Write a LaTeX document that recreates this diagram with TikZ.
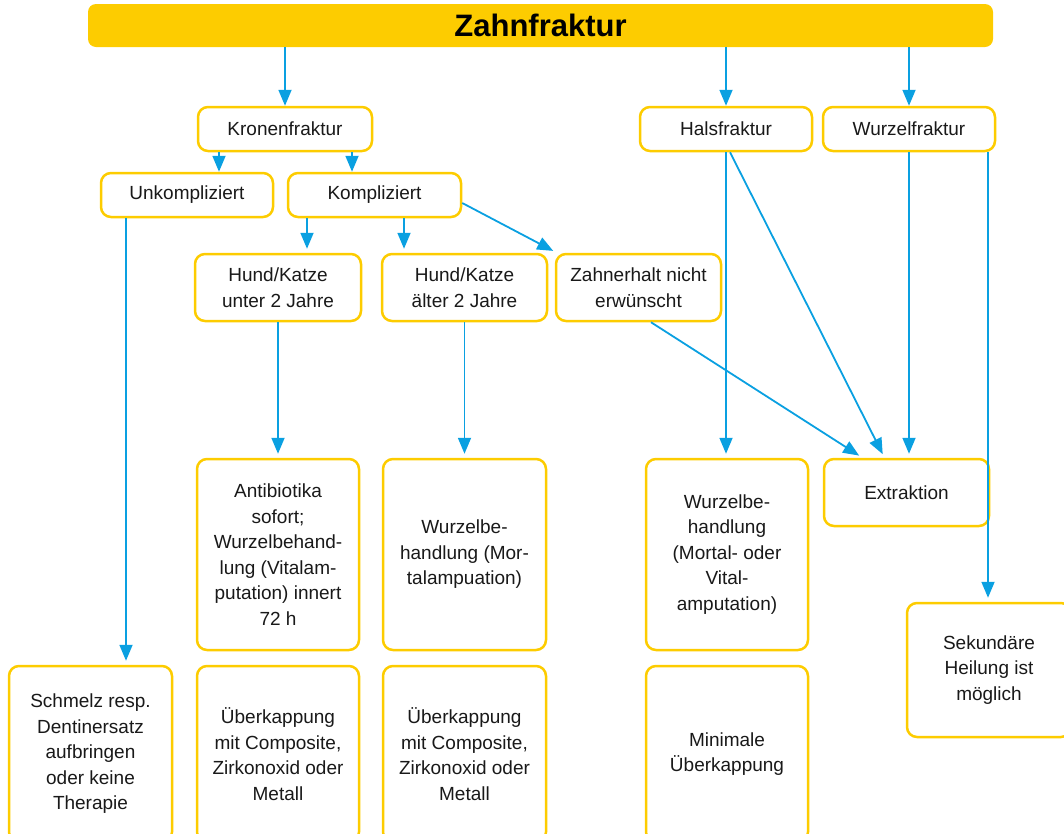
\documentclass[tikz,border=0pt]{standalone}
\usepackage{fontspec}
\setmainfont{Liberation Sans}
\usetikzlibrary{arrows.meta,calc}
\definecolor{ylw}{RGB}{253,204,0}
\definecolor{blu}{RGB}{10,160,225}
\definecolor{txt}{RGB}{25,25,25}
\begin{document}
\begin{tikzpicture}[x=1pt,y=-1pt,
  box/.style={draw=ylw, line width=2.5pt, rounded corners=10pt, fill=white,
    align=center, inner sep=0pt, text=txt, font=\fontsize{19}{25.5}\selectfont},
  titlebox/.style={fill=ylw, rounded corners=8pt, inner sep=0pt, text=black,
    font=\fontsize{31}{36}\selectfont\bfseries},
  arr/.style={draw=blu, line width=1.8pt, shorten >=4pt,
    -{Triangle[length=16pt,width=13pt]}}]
\useasboundingbox (0,0) rectangle (1064,833);
\clip (0,0) rectangle (1064,833);

\node[titlebox, minimum width=905pt, minimum height=43pt] (title) at (540.5,25.5) {Zahnfraktur};

\node[box, minimum width=174pt, minimum height=44pt] (kron) at (285,129) {Kronenfraktur};
\node[box, minimum width=172pt, minimum height=44pt] (unk) at (187,195) {Unkompliziert};
\node[box, minimum width=173pt, minimum height=44pt] (komp) at (374.5,195) {Kompliziert};
\node[box, minimum width=166pt, minimum height=67pt] (unter) at (278,287.5) {Hund/Katze\\unter 2 Jahre};
\node[box, minimum width=165pt, minimum height=67pt] (aelter) at (464.5,287.5) {Hund/Katze\\älter 2 Jahre};
\node[box, minimum width=165pt, minimum height=67pt] (zahn) at (638.5,287.5) {Zahnerhalt nicht\\erwünscht};
\node[box, minimum width=172pt, minimum height=44pt] (hals) at (726,129) {Halsfraktur};
\node[box, minimum width=172pt, minimum height=44pt] (wurz) at (909,129) {Wurzelfraktur};

\node[box, minimum width=162pt, minimum height=191pt] (antib) at (278,554.5) {Antibiotika\\sofort;\\Wurzelbehand-\\lung (Vitalam-\\putation) innert\\72 h};
\node[box, minimum width=163pt, minimum height=191pt] (wbm) at (464.5,554.5) {Wurzelbe-\\handlung (Mor-\\talampuation)};
\node[box, minimum width=162pt, minimum height=191pt] (wbh) at (727,554.5) {Wurzelbe-\\handlung\\(Mortal- oder\\Vital-\\amputation)};
\node[box, minimum width=165pt, minimum height=67pt] (extr) at (906.5,492.5) {Extraktion};

\node[box, minimum width=163pt, minimum height=176pt] (schm) at (90.5,754) {Schmelz resp.\\Dentinersatz\\aufbringen\\oder keine\\Therapie};
\node[box, minimum width=162pt, minimum height=176pt] (ueb1) at (278,754) {Überkappung\\mit Composite,\\Zirkonoxid oder\\Metall};
\node[box, minimum width=163pt, minimum height=176pt] (ueb2) at (464.5,754) {Überkappung\\mit Composite,\\Zirkonoxid oder\\Metall};
\node[box, minimum width=162pt, minimum height=176pt] (mini) at (727,754) {Minimale\\Überkappung};
\node[box, minimum width=164pt, minimum height=134pt] (sek) at (989,670) {Sekundäre\\Heilung ist\\möglich};

% connectors
\draw[arr, shorten >=0pt] (title.south -| kron.north) -- (kron.north);
\draw[arr, shorten >=0pt] (title.south -| hals.north) -- (hals.north);
\draw[arr, shorten >=0pt] (title.south -| wurz.north) -- (wurz.north);

\draw[arr, shorten >=0pt] ([xshift=-66pt]kron.south) -- ([xshift=-66pt]kron.south |- unk.north);
\draw[arr, shorten >=0pt] ([xshift=67pt]kron.south) -- ([xshift=67pt]kron.south |- komp.north);

\draw[arr] ([xshift=-67.5pt]komp.south) -- ([xshift=-67.5pt]komp.south |- unter.north);
\draw[arr] ([xshift=29.5pt]komp.south) -- ([xshift=29.5pt]komp.south |- aelter.north);
\draw[arr] ([yshift=-8pt]komp.east) -- ([xshift=2pt]zahn.north west);

\draw[arr] ([xshift=-61pt]unk.south) -- ([xshift=-61pt]unk.south |- schm.north);
\draw[arr] (unter.south) -- (unter.south |- antib.north);
\draw[arr] (aelter.south) -- (aelter.south |- wbm.north);

\draw[arr] (hals.south) -- (hals.south |- wbh.north);
\draw[arr] ([xshift=4pt]hals.south) -- ([xshift=-22pt]extr.north);
\draw[arr] ([xshift=12.5pt]zahn.south) -- ([xshift=-44pt]extr.north);
\draw[arr] (wurz.south) -- (wurz.south |- extr.north);
\draw[arr] ([xshift=79pt]wurz.south) -- ([xshift=79pt]wurz.south |- sek.north);
\end{tikzpicture}
\end{document}
